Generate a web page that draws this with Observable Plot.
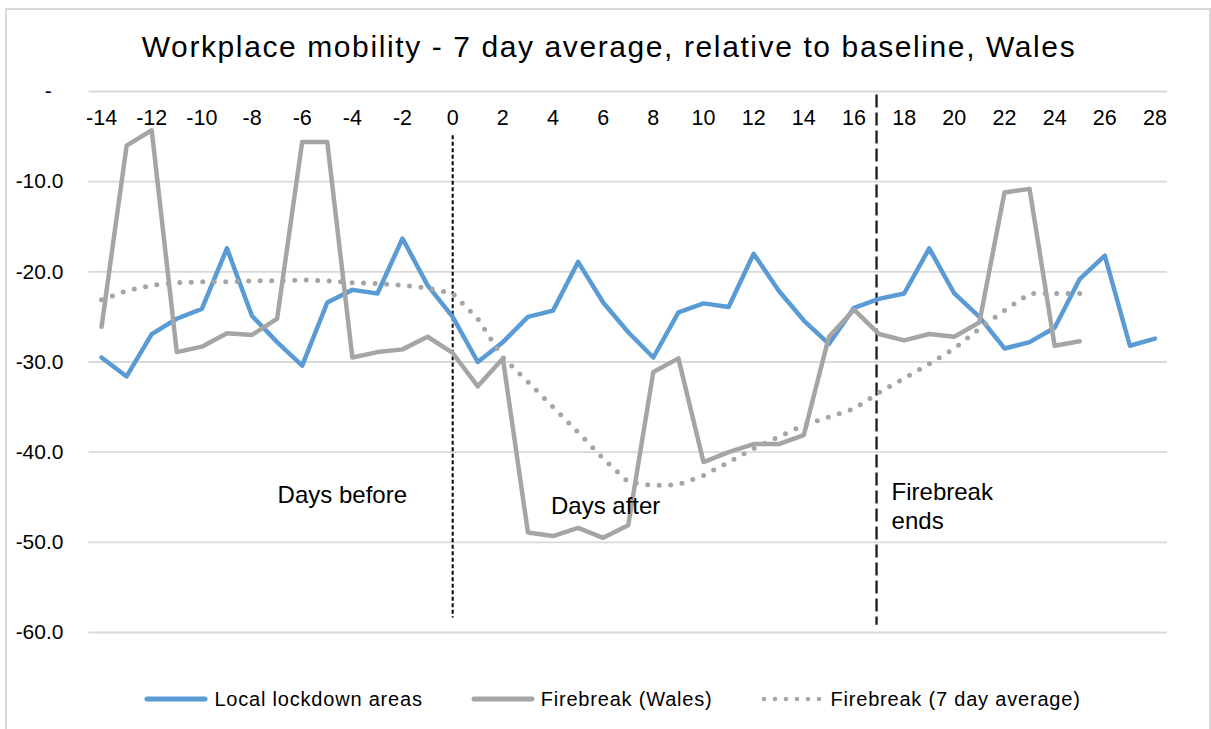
<!DOCTYPE html>
<html>
<head>
<meta charset="utf-8">
<script src="https://cdn.jsdelivr.net/npm/d3@7"></script>
<script src="https://cdn.jsdelivr.net/npm/@observablehq/plot@0.6"></script>
<style>
  body { margin: 0; background: #fff; font-family: "Liberation Sans", Arial, sans-serif; }
  #wrap { position: relative; width: 1211px; height: 729px; overflow: hidden; background: #fff; }
  #frame { position: absolute; left: 5px; top: 8px; width: 1206px; height: 760px; border: 2px solid #d9d9d9; box-sizing: border-box; }
  #title { position: absolute; left: 7px; top: 29px; width: 1204px; text-align: center; font-size: 30px; line-height: 36px; letter-spacing: 1.6px; color: #000; white-space: nowrap; }
  #chart { position: absolute; left: 0; top: 60px; }
  #legend { position: absolute; left: 14px; top: 687px; width: 1197px; display: flex; justify-content: center; gap: 48px; font-size: 20px; line-height: 24px; letter-spacing: 0.8px; color: #000; }
  .item { display: flex; align-items: center; gap: 6px; white-space: nowrap; }
</style>
</head>
<body>
<div id="wrap">
  <div id="frame"></div>
  <div id="title"></div>
  <div id="chart"></div>
  <div id="legend"></div>
</div>
<script>
// ---- data ----
const days = [-14,-13,-12,-11,-10,-9,-8,-7,-6,-5,-4,-3,-2,-1,0,1,2,3,4,5,6,7,8,9,10,11,12,13,14,15,16,17,18,19,20,21,22,23,24,25,26,27,28];
const localLockdown = [-29.5,-31.6,-26.9,-25.2,-24.1,-17.4,-24.9,-27.8,-30.4,-23.4,-22.0,-22.4,-16.3,-21.5,-25.0,
  -30.0,-27.8,-25.0,-24.3,-18.9,-23.4,-26.7,-29.5,-24.5,-23.5,-23.9,-18.0,-22.1,-25.4,-28.0,-24.0,
  -23.0,-22.4,-17.4,-22.4,-25.0,-28.5,-27.8,-26.2,-20.8,-18.2,-28.2,-27.4];
const firebreakWales = [-26.1,-6.0,-4.3,-28.9,-28.3,-26.8,-27.0,-25.2,-5.6,-5.6,-29.5,-28.9,-28.6,-27.2,-29.0,
  -32.7,-29.6,-48.9,-49.3,-48.4,-49.5,-48.1,-31.1,-29.6,-41.1,-40.0,-39.1,-39.1,-38.1,-27.2,-24.2,
  -26.9,-27.6,-26.9,-27.2,-25.6,-11.2,-10.8,-28.2,-27.7];
const firebreak7Day = [-23.1,-22.1,-21.5,-21.2,-21.1,-21.1,-21.0,-21.0,-20.9,-21.0,-21.2,-21.3,-21.5,-21.8,-22.4,
  -25.2,-29.5,-32.2,-35.0,-37.8,-40.7,-43.3,-43.7,-43.6,-42.6,-41.1,-39.6,-38.3,-37.0,-36.1,-35.2,
  -33.4,-31.8,-30.2,-28.5,-26.3,-24.3,-22.4,-22.4,-22.4];
const seriesNames = ["Local lockdown areas", "Firebreak (Wales)", "Firebreak (7 day average)"];
const xTicks = [-14,-12,-10,-8,-6,-4,-2,0,2,4,6,8,10,12,14,16,18,20,22,24,26,28];
const yTicks = [0,-10,-20,-30,-40,-50,-60];
const markerDays = [0, 16.9];
const markerTop = [-4.9, -0.4];
const markerBottom = [-58.4, -59.2];
const noteTexts = ["Days before", "Days after", "Firebreak\nends"];
const noteX = [-4.4, 6.1, 17.5];
const noteY = [-44.8, -46.0, -45.9];
const titleText = "Workplace mobility - 7 day average, relative to baseline, Wales";

// ---- styles ----
const BLUE = "#5b9bd5", GRAY = "#a5a5a5";

document.getElementById("title").textContent = titleText;

const toRows = (vals) => vals.map((v, i) => ({x: days[i], y: v}));
const markers = markerDays.map((d, i) => ({x: d, y1: markerTop[i], y2: markerBottom[i]}));
const notes = noteTexts.map((t, i) => ({t, x: noteX[i], y: noteY[i]}));

const chart = Plot.plot({
  width: 1211,
  height: 600,
  marginLeft: 88.5,
  marginRight: 44,
  marginTop: 31,
  marginBottom: 28,
  style: {fontFamily: "'Liberation Sans', Arial, sans-serif", background: "transparent", overflow: "visible"},
  x: {type: "linear", domain: [-14.5, 28.5]},
  y: {domain: [-60, 0]},
  marks: [
    Plot.ruleY(yTicks, {stroke: "#d9d9d9", strokeWidth: 1.8}),
    Plot.axisY({ticks: yTicks, tickSize: 0, tickPadding: 25.5, fontSize: 21, label: null,
      tickFormat: d => d === 0 ? "-\u00a0\u00a0" : d.toFixed(1), fill: "#000"}),
    Plot.axisX({anchor: "top", ticks: xTicks, tickSize: 0, tickPadding: 0, dy: 26.3, lineAnchor: "middle",
      fontSize: 21.5, label: null, tickFormat: d => String(d), fill: "#000"}),
    Plot.ruleX([markers[0]], {x: "x", y1: "y1", y2: "y2", stroke: "#000", strokeWidth: 2, strokeDasharray: "4,2.5"}),
    Plot.ruleX([markers[1]], {x: "x", y1: "y1", y2: "y2", stroke: "#1a1a1a", strokeWidth: 2.3, strokeDasharray: "13,5"}),
    Plot.line(toRows(localLockdown), {x: "x", y: "y", stroke: BLUE, strokeWidth: 4.5, strokeLinejoin: "round", strokeLinecap: "round"}),
    Plot.line(toRows(firebreakWales), {x: "x", y: "y", stroke: GRAY, strokeWidth: 4.5, strokeLinejoin: "round", strokeLinecap: "round"}),
    Plot.line(toRows(firebreak7Day), {x: "x", y: "y", stroke: GRAY, strokeWidth: 5, strokeLinecap: "round", strokeDasharray: "0,11.5"}),
    Plot.text([notes[0], notes[1]], {x: "x", y: "y", text: "t", fontSize: 24, fill: "#000", textAnchor: "middle", lineAnchor: "middle"}),
    Plot.text([notes[2]], {x: "x", y: "y", text: "t", fontSize: 24, fill: "#000", textAnchor: "start", lineAnchor: "middle", lineHeight: 1.2})
  ]
});
document.getElementById("chart").appendChild(chart);

// ---- legend ----
const legendStyles = [
  {stroke: BLUE, dash: null, width: 5},
  {stroke: GRAY, dash: null, width: 5},
  {stroke: GRAY, dash: "0,11", width: 4.6}
];
const legend = document.getElementById("legend");
seriesNames.forEach((name, i) => {
  const s = legendStyles[i];
  const item = document.createElement("div");
  item.className = "item";
  item.innerHTML = `<svg width="64" height="12"><line x1="3" y1="6" x2="61" y2="6" stroke="${s.stroke}" stroke-width="${s.width}" stroke-linecap="round" ${s.dash ? `stroke-dasharray="${s.dash}"` : ""}/></svg><span>${name}</span>`;
  legend.appendChild(item);
});
</script>
</body>
</html>
